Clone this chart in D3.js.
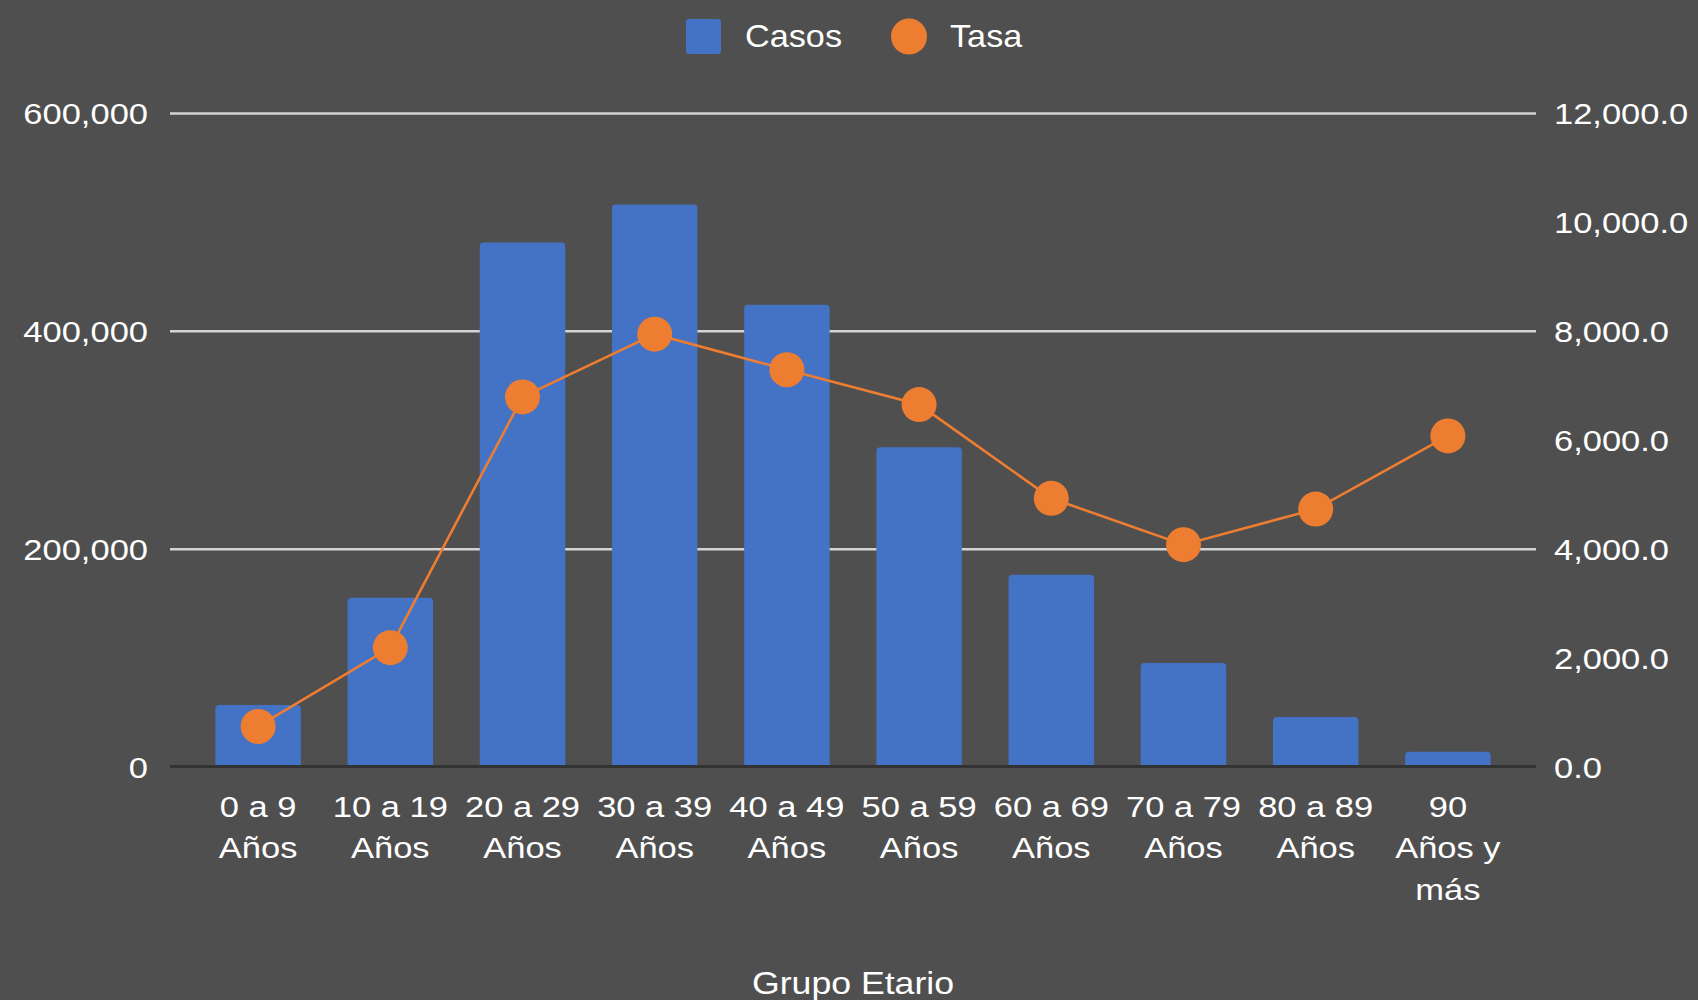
<!DOCTYPE html>
<html>
<head>
<meta charset="utf-8">
<script src="https://cdn.jsdelivr.net/npm/d3@7"></script>
<style>
  html, body { margin: 0; padding: 0; background: #4f4f4f; }
  svg { display: block; }
  text { font-family: "Liberation Sans", Arial, sans-serif; fill: #ffffff; }
</style>
</head>
<body>
<div id="chart"></div>
<script>
// data
var categories = ["0 a 9 Años", "10 a 19 Años", "20 a 29 Años", "30 a 39 Años", "40 a 49 Años",
  "50 a 59 Años", "60 a 69 Años", "70 a 79 Años", "80 a 89 Años", "90 Años y más"];
var casos = [56500, 155000, 481000, 516000, 424000, 293000, 176000, 95000, 45500, 13500];
var tasa = [735, 2182, 6786, 7939, 7286, 6646, 4924, 4073, 4727, 6070];
var leftTicks = [0, 200000, 400000, 600000];
var rightTicks = [0, 2000, 4000, 6000, 8000, 10000, 12000];
var seriesNames = ["Casos", "Tasa"];
var xTitle = "Grupo Etario";

var barColor = "#4472c4",
  lineColor = "#ed7d31";

var width = 1698, height = 1000;
var margin = {top: 113, right: 162, bottom: 233.5, left: 170};
var plotW = width - margin.left - margin.right,
  plotH = height - margin.top - margin.bottom;
var stretch = "scale(1.15,1)";

var svg = d3.select("#chart").append("svg")
  .attr("width", width)
  .attr("height", height);

svg.append("rect").attr("width", width).attr("height", height).attr("fill", "#4f4f4f");

var g = svg.append("g")
  .attr("transform", "translate(" + margin.left + "," + margin.top + ")");

// scales
var x = d3.scaleBand()
  .domain(categories)
  .range([0, plotW])
  .paddingInner(0.353)
  .paddingOuter(0.343);
var yL = d3.scaleLinear().domain([0, 600000]).range([plotH, 0]);
var yR = d3.scaleLinear().domain([0, 12000]).range([plotH, 0]);

// gridlines
var grid = g.append("g")
  .call(d3.axisLeft(yL).tickValues(leftTicks).tickSize(-plotW).tickFormat(""));
grid.select(".domain").remove();
grid.selectAll(".tick line")
  .attr("stroke", "#d4d4d4")
  .attr("stroke-width", 2.5)
  .filter(function (d) { return d === 0; })
  .remove();

// left labels
var la = g.append("g")
  .call(d3.axisLeft(yL).tickValues(leftTicks).tickSize(0).tickFormat(d3.format(",")));
la.select(".domain").remove();
la.selectAll(".tick text")
  .attr("x", null)
  .attr("dy", "0.35em")
  .attr("transform", "translate(-22,0) " + stretch)
  .style("font-size", "30px")
  .attr("fill", "#fff");

// right labels
var ra = g.append("g")
  .attr("transform", "translate(" + plotW + ",0)")
  .call(d3.axisRight(yR).tickValues(rightTicks).tickSize(0).tickFormat(d3.format(",.1f")));
ra.select(".domain").remove();
ra.selectAll(".tick text")
  .attr("x", null)
  .attr("dy", "0.35em")
  .attr("transform", "translate(18,0) " + stretch)
  .style("font-size", "30px")
  .attr("fill", "#fff");

// bars with rounded tops
function topRounded(x0, y0, w, h, r) {
  r = Math.min(r, h, w / 2);
  return "M" + x0 + "," + (y0 + h) +
    "V" + (y0 + r) +
    "Q" + x0 + "," + y0 + " " + (x0 + r) + "," + y0 +
    "H" + (x0 + w - r) +
    "Q" + (x0 + w) + "," + y0 + " " + (x0 + w) + "," + (y0 + r) +
    "V" + (y0 + h) + "Z";
}

g.selectAll(".bar")
  .data(casos)
  .enter().append("path")
  .attr("class", "bar")
  .attr("fill", barColor)
  .attr("d", function (d, i) {
    return topRounded(x(categories[i]), yL(d), x.bandwidth(), plotH - yL(d), 4);
  });

// zero line
g.append("line")
  .attr("x1", 0).attr("x2", plotW)
  .attr("y1", yL(0)).attr("y2", yL(0))
  .attr("stroke", "#333333")
  .attr("stroke-width", 3);

// line series
var cx = function (i) { return x(categories[i]) + x.bandwidth() / 2; };
var line = d3.line()
  .x(function (d, i) { return cx(i); })
  .y(function (d) { return yR(d); });

g.append("path")
  .datum(tasa)
  .attr("fill", "none")
  .attr("stroke", lineColor)
  .attr("stroke-width", 2.6)
  .attr("d", line);

g.selectAll(".dot")
  .data(tasa)
  .enter().append("circle")
  .attr("class", "dot")
  .attr("cx", function (d, i) { return cx(i); })
  .attr("cy", function (d) { return yR(d); })
  .attr("r", 17.5)
  .attr("fill", lineColor);

// x axis labels (wrapped by width)
var xa = g.append("g")
  .attr("transform", "translate(0," + plotH + ")")
  .call(d3.axisBottom(x).tickSize(0).tickFormat(""));
xa.select(".domain").remove();

var ctx = document.createElement("canvas").getContext("2d");
ctx.font = "30px 'Liberation Sans'";

function wrapLabel(label) {
  var words = label.split(" "), lines = [], cur = "";
  var maxW = 3.5 * 30;
  words.forEach(function (w) {
    var test = cur ? cur + " " + w : w;
    if (ctx.measureText(test).width > maxW && cur) {
      lines.push(cur);
      cur = w;
    } else {
      cur = test;
    }
  });
  if (cur) lines.push(cur);
  return lines;
}

xa.selectAll(".tick").each(function (d) {
  var t = d3.select(this).select("text");
  t.text(null)
    .attr("y", null)
    .attr("dy", null)
    .attr("transform", "translate(0,50) " + stretch)
    .style("font-size", "30px")
    .attr("fill", "#fff");
  wrapLabel(d).forEach(function (ln, k) {
    t.append("tspan").attr("x", 0).attr("y", k * 41.7).text(ln);
  });
});

// axis title
svg.append("text")
  .attr("transform", "translate(" + (margin.left + plotW / 2) + ",994) " + stretch)
  .attr("text-anchor", "middle")
  .style("font-size", "31px")
  .text(xTitle);

// legend
var lg = svg.append("g");
lg.append("rect")
  .attr("x", 686).attr("y", 19)
  .attr("width", 35).attr("height", 35)
  .attr("rx", 3)
  .attr("fill", barColor);
lg.append("text")
  .attr("transform", "translate(745,47) scale(1.07,1)")
  .style("font-size", "32px")
  .text(seriesNames[0]);
lg.append("circle")
  .attr("cx", 909).attr("cy", 36.5)
  .attr("r", 18)
  .attr("fill", lineColor);
lg.append("text")
  .attr("transform", "translate(950,47) scale(1.07,1)")
  .style("font-size", "32px")
  .text(seriesNames[1]);
</script>
</body>
</html>
